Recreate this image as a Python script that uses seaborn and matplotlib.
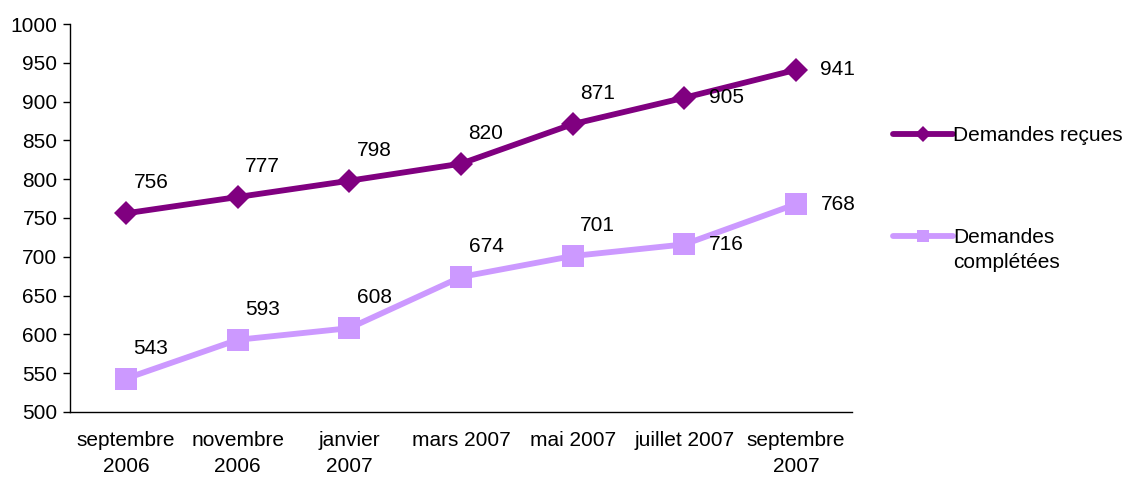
import numpy as np
import pandas as pd
import matplotlib
matplotlib.use("Agg")
import matplotlib.pyplot as plt
from matplotlib.lines import Line2D
import seaborn as sns

# donnees
mois = ["septembre\n2006", "novembre\n2006", "janvier\n2007", "mars 2007",
        "mai 2007", "juillet 2007", "septembre\n2007"]
recues = [756, 777, 798, 820, 871, 905, 941]
completees = [543, 593, 608, 674, 701, 716, 768]

df = pd.DataFrame({"idx": np.arange(len(mois)), "recues": recues, "completees": completees})

sns.set_style("white")
plt.rcParams["font.family"] = ["Liberation Sans", "DejaVu Sans"]
plt.rcParams["text.color"] = "black"
plt.rcParams["xtick.color"] = "black"
plt.rcParams["ytick.color"] = "black"

fs = 15

fig = plt.figure(figsize=(11.27, 4.8), dpi=100)
ax = fig.add_axes([0.0621, 0.1417, 0.6939, 0.8083])

c1 = "#800080"
c2 = "#CC99FF"
sns.lineplot(data=df, x="idx", y="recues", ax=ax, color=c1, lw=4.2,
             marker="D", markersize=12, markeredgewidth=0, legend=False)
sns.lineplot(data=df, x="idx", y="completees", ax=ax, color=c2, lw=4.2,
             marker="s", markersize=16, markeredgewidth=0, legend=False)

# etiquettes de valeurs
for serie in (recues, completees):
    for i, v in enumerate(serie):
        if i >= 5:
            off = (30, 0)
        else:
            off = (18, 22)
        ax.annotate(str(v), (i, v), xytext=off, textcoords="offset points",
                    fontsize=fs, va="center", ha="center", color="black")

ax.set_xlim(-0.5, 6.5)
ax.set_ylim(500, 1000)
ax.set_yticks(np.arange(500, 1001, 50))
ax.set_xticks(np.arange(len(mois)))
ax.set_xticklabels(mois, fontsize=fs, linespacing=1.45)
ax.set_xticks(np.arange(-0.5, 7, 1), minor=True)
ax.tick_params(axis="x", which="major", length=0, pad=14)
ax.tick_params(axis="x", which="minor", length=6, width=1, color="black", direction="out")
ax.tick_params(axis="y", length=5, width=1, color="black", direction="out", labelsize=fs, left=True, pad=4)
ax.set_xlabel("")
ax.set_ylabel("")
for s in ["top", "right"]:
    ax.spines[s].set_visible(False)
for s in ["left", "bottom"]:
    ax.spines[s].set_color("black")
    ax.spines[s].set_linewidth(1)

h1 = Line2D([0], [0], color=c1, lw=4.2, marker="D", markersize=8, markeredgewidth=0)
h2 = Line2D([0], [0], color=c2, lw=4.2, marker="s", markersize=8, markeredgewidth=0)
vide = Line2D([0], [0], color="none")

fig.legend([h1], ["Demandes reçues"], loc="center left",
           bbox_to_anchor=(0.7924, 0.717), frameon=False, fontsize=fs,
           handlelength=2.9, handletextpad=0.0, borderpad=0, borderaxespad=0)
fig.legend([h2, vide], ["Demandes", "complétées"], loc="center left",
           bbox_to_anchor=(0.7924, 0.479), frameon=False, fontsize=fs,
           handlelength=2.9, handletextpad=0.0, borderpad=0, borderaxespad=0,
           labelspacing=0.25)

fig.savefig("out.png", dpi=100)
